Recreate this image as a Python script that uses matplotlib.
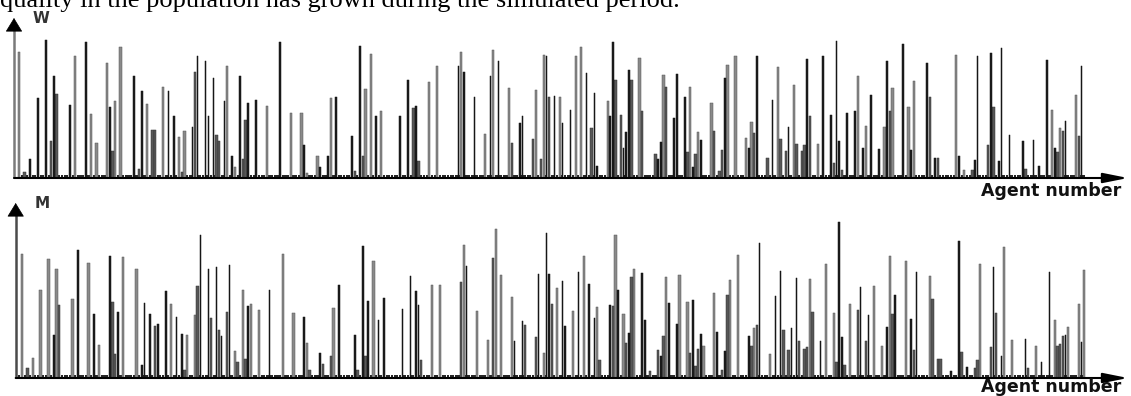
import matplotlib
matplotlib.use("Agg")
import matplotlib.pyplot as plt

# ---------------------------------------------------------------- data
N_AGENTS = 401
agents_all = list(range(N_AGENTS))
floor_value = 3          # residual level of the agents with no visible bar

# Women: agent number, value, shade (L = light, M = medium, D = dark)
w_agents = [0, 2, 4, 7, 10, 12, 13, 14, 19, 21,
            25, 27, 29, 33, 34, 35, 36, 38, 43, 45,
            46, 48, 50, 51, 54, 56, 58, 60, 61, 62,
            65, 66, 67, 70, 71, 73, 74, 75, 77, 78,
            80, 81, 83, 84, 85, 86, 89, 93, 98, 102,
            106, 107, 108, 112, 113, 116, 117, 119, 125, 126,
            128, 129, 130, 132, 134, 136, 143, 146, 148, 149,
            150, 154, 157, 165, 166, 167, 171, 175, 177, 178,
            180, 184, 185, 188, 189, 193, 194, 196, 197, 198,
            199, 201, 203, 204, 207, 209, 211, 213, 215, 216,
            217, 221, 222, 223, 224, 226, 227, 228, 229, 230,
            233, 234, 239, 240, 241, 242, 243, 246, 247, 250,
            251, 252, 253, 254, 255, 256, 260, 261, 263, 264,
            265, 266, 269, 273, 274, 275, 276, 277, 281, 283,
            285, 286, 288, 289, 291, 292, 294, 295, 296, 297,
            300, 302, 305, 306, 307, 308, 309, 311, 314, 315,
            317, 318, 320, 323, 325, 326, 327, 328, 332, 334,
            335, 336, 341, 342, 344, 345, 352, 353, 355, 358,
            359, 360, 364, 365, 366, 368, 369, 372, 377, 378,
            381, 383, 386, 388, 389, 390, 391, 392, 393, 397,
            398, 399]
w_values = [126, 6, 19, 80, 138, 37, 102, 84, 73, 122,
            136, 64, 35, 115, 71, 27, 77, 131, 102, 9,
            87, 74, 48, 48, 91, 87, 62, 41, 6, 47,
            51, 106, 122, 117, 62, 100, 43, 37, 77, 112,
            22, 11, 102, 19, 58, 75, 78, 72, 136, 65,
            65, 33, 5, 22, 11, 22, 80, 81, 42, 7,
            132, 22, 89, 124, 62, 67, 62, 98, 70, 72,
            17, 96, 112, 112, 126, 106, 81, 44, 102, 128,
            117, 90, 35, 55, 62, 39, 88, 19, 123, 122,
            81, 82, 81, 55, 68, 122, 131, 105, 50, 85,
            12, 77, 62, 136, 98, 63, 30, 46, 108, 98,
            120, 67, 24, 19, 36, 103, 91, 60, 104, 81,
            26, 91, 11, 24, 46, 38, 75, 47, 7, 28,
            100, 113, 122, 40, 30, 56, 45, 122, 20, 78,
            111, 39, 27, 51, 93, 34, 27, 33, 119, 62,
            34, 122, 63, 15, 137, 37, 8, 65, 67, 102,
            30, 52, 83, 29, 51, 117, 67, 90, 134, 71,
            28, 97, 115, 81, 20, 20, 123, 22, 8, 8,
            18, 122, 33, 125, 71, 17, 130, 43, 37, 9,
            38, 12, 118, 68, 30, 26, 50, 47, 57, 83,
            42, 112]
w_shades = ("LMDDDMDMDL" "DLLLDMLLDM" "DLMMLDDLML" "DMDDDDMMDL"
            "DLDMMDDLDL" "LDLLDDLDDM" "DMLLDLDDMD" "MLLDLDDLDL"
            "DLMDDMLMLD" "MDLDDLLDMD" "DLDDMMDDDM" "LMMDDLMDDD"
            "MLDMLDLMMM" "DLLLDLMDMD" "LMMDLMMMDM" "LDDMDDMDDL"
            "DLDDLDMLDL" "DLDMDMLDLM" "DDMDMDDDDM" "DDDLDMLMDL"
            "MD")

# Men: agent number, value, shade
m_agents = [1, 3, 5, 8, 11, 13, 14, 15, 20, 22,
            26, 28, 30, 34, 35, 36, 37, 39, 44, 46,
            47, 49, 51, 52, 55, 57, 59, 61, 62, 63,
            66, 67, 68, 71, 72, 74, 75, 76, 78, 79,
            81, 82, 84, 85, 86, 87, 90, 94, 99, 103,
            107, 108, 109, 113, 114, 117, 118, 120, 126, 127,
            129, 130, 131, 133, 135, 137, 144, 147, 149, 150,
            151, 155, 158, 166, 167, 168, 172, 176, 178, 179,
            181, 185, 186, 189, 190, 194, 195, 197, 198, 199,
            200, 202, 204, 205, 208, 210, 212, 214, 216, 217,
            218, 222, 223, 224, 225, 227, 228, 229, 230, 231,
            234, 235, 237, 240, 241, 242, 243, 244, 247, 248,
            251, 252, 253, 254, 255, 256, 257, 261, 262, 264,
            265, 266, 267, 270, 274, 275, 276, 277, 278, 282,
            284, 286, 287, 289, 290, 292, 293, 295, 296, 297,
            298, 301, 303, 306, 307, 308, 309, 310, 312, 315,
            316, 318, 319, 321, 324, 326, 327, 328, 329, 333,
            335, 336, 337, 342, 343, 345, 346, 350, 353, 354,
            356, 359, 360, 361, 365, 366, 367, 369, 370, 373,
            378, 379, 382, 384, 387, 389, 390, 391, 392, 393,
            394, 398, 399, 400]
m_values = [124, 10, 20, 88, 119, 43, 109, 73, 79, 128,
            115, 64, 33, 122, 76, 24, 66, 121, 109, 13,
            75, 64, 52, 54, 87, 74, 61, 44, 8, 43,
            63, 92, 143, 109, 60, 111, 48, 42, 66, 113,
            27, 16, 88, 19, 72, 74, 68, 88, 124, 65,
            61, 35, 8, 25, 14, 22, 70, 93, 43, 8,
            132, 22, 77, 117, 58, 80, 69, 102, 87, 73,
            18, 93, 93, 96, 133, 112, 67, 38, 120, 149,
            103, 81, 37, 57, 53, 41, 104, 25, 145, 104,
            74, 90, 97, 52, 67, 106, 122, 94, 60, 71,
            18, 73, 72, 143, 88, 64, 35, 45, 101, 109,
            105, 58, 7, 28, 22, 42, 101, 75, 54, 103,
            76, 25, 78, 12, 29, 44, 32, 85, 46, 8,
            27, 83, 98, 123, 42, 32, 50, 53, 135, 24,
            82, 107, 48, 28, 50, 100, 37, 29, 31, 99,
            66, 37, 114, 65, 16, 156, 41, 13, 74, 68,
            91, 37, 63, 92, 32, 51, 122, 64, 83, 117,
            59, 28, 106, 102, 79, 19, 19, 7, 137, 26,
            11, 10, 18, 114, 31, 111, 65, 22, 131, 38,
            39, 10, 32, 16, 106, 58, 32, 34, 42, 43,
            51, 74, 36, 108]
m_shades = ("LMLLLDLMLD" "LDLDMMDLLD" "DDMDDLDDML" "LMDDMDMDMD"
            "LMLMDLLDLL" "DLMDMMLDDM" "DMDLDDDDDD" "MLLMLDLLML"
            "LLDDMMDLDD" "MLDDLDLDDL" "MDMLDLMDML" "DDMMDMLDDL"
            "LMDMMDLLDM" "DMLLDMLMDL" "DDMMDDMMML" "MDLLMDDMLM"
            "DMDLLDLMDL" "DMDLMMMDDM" "DMMLMDMDLL" "DMLDDLMMMD"
            "LLDL")

shade_fill = {"L": "#8a8a8a", "M": "#575757", "D": "#1c1c1c"}
shade_edge = {"L": "#555555", "M": "#333333", "D": "#111111"}
shade_width = {"L": 0.85, "M": 0.9, "D": 0.6}

# ---------------------------------------------------------------- layout
FW, FH = 1131, 396
fig = plt.figure(figsize=(FW / 100, FH / 100), dpi=100)

X0, DX = 19.33, 2.662     # pixel position of agent 0 and spacing between agents


def rect(left, top, right, bottom):
    return [left / FW, 1 - bottom / FH, (right - left) / FW, (bottom - top) / FH]


def draw_panel(left, top, right, bottom, ymax, agents, values, shades,
               letter, shaft_color):
    ax = fig.add_axes(rect(left, top, right, bottom))
    ax.set_xlim((left - X0) / DX, (right - X0) / DX)
    ax.set_ylim(0, ymax)
    ax.axis("off")

    # residual bars of every agent
    ax.bar(agents_all, [floor_value] * N_AGENTS, width=0.8,
           color="#262626", linewidth=0)
    # visible bars, light ones first so darker neighbours stay on top
    for shade in "LMD":
        sel = [k for k, s in enumerate(shades) if s == shade]
        ax.bar([agents[k] for k in sel], [values[k] for k in sel],
               width=shade_width[shade], color=shade_fill[shade],
               edgecolor=shade_edge[shade], linewidth=0.35)

    # horizontal axis with arrow head
    ax.annotate("", xy=(1, 0), xytext=(0, 0), xycoords="axes fraction",
                arrowprops=dict(arrowstyle="-|>,head_length=1.5,head_width=0.3",
                                color="black", lw=1.5, mutation_scale=10,
                                shrinkA=0, shrinkB=0), annotation_clip=False)
    # vertical axis
    ax.plot([0, 0], [0, 0.95], transform=ax.transAxes, color=shaft_color,
            lw=1.8, clip_on=False, solid_capstyle="butt")
    ax.annotate("", xy=(0, 1), xytext=(0, 0.93), xycoords="axes fraction",
                arrowprops=dict(arrowstyle="-|>,head_length=0.9,head_width=0.55",
                                color="black", lw=0.5, mutation_scale=10,
                                shrinkA=0, shrinkB=0), annotation_clip=False)
    fig.text((left + 19) / FW, 1 - (top + 5) / FH, letter, fontsize=11,
             fontweight="bold", color="#333333", va="baseline", ha="left",
             family="DejaVu Sans")
    return ax


draw_panel(14, 18, 1128, 178, 160, w_agents, w_values, w_shades, "W", "#7a7a7a")
draw_panel(15.7, 203, 1128, 378, 175, m_agents, m_values, m_shades, "M", "#4a4a4a")

fig.text(1121 / FW, 1 - 196.5 / FH, "Agent number", fontsize=12.5,
         fontweight="bold", color="#111111", ha="right", va="baseline")
fig.text(1121 / FW, 1 - 392 / FH, "Agent number", fontsize=12.5,
         fontweight="bold", color="#111111", ha="right", va="baseline")

fig.text(0.0, 1 - 6.5 / FH,
         "quality in the population has grown during the simulated period.",
         family="Liberation Serif", fontsize=19, color="black",
         ha="left", va="baseline")

fig.savefig("out.png", dpi=100)
